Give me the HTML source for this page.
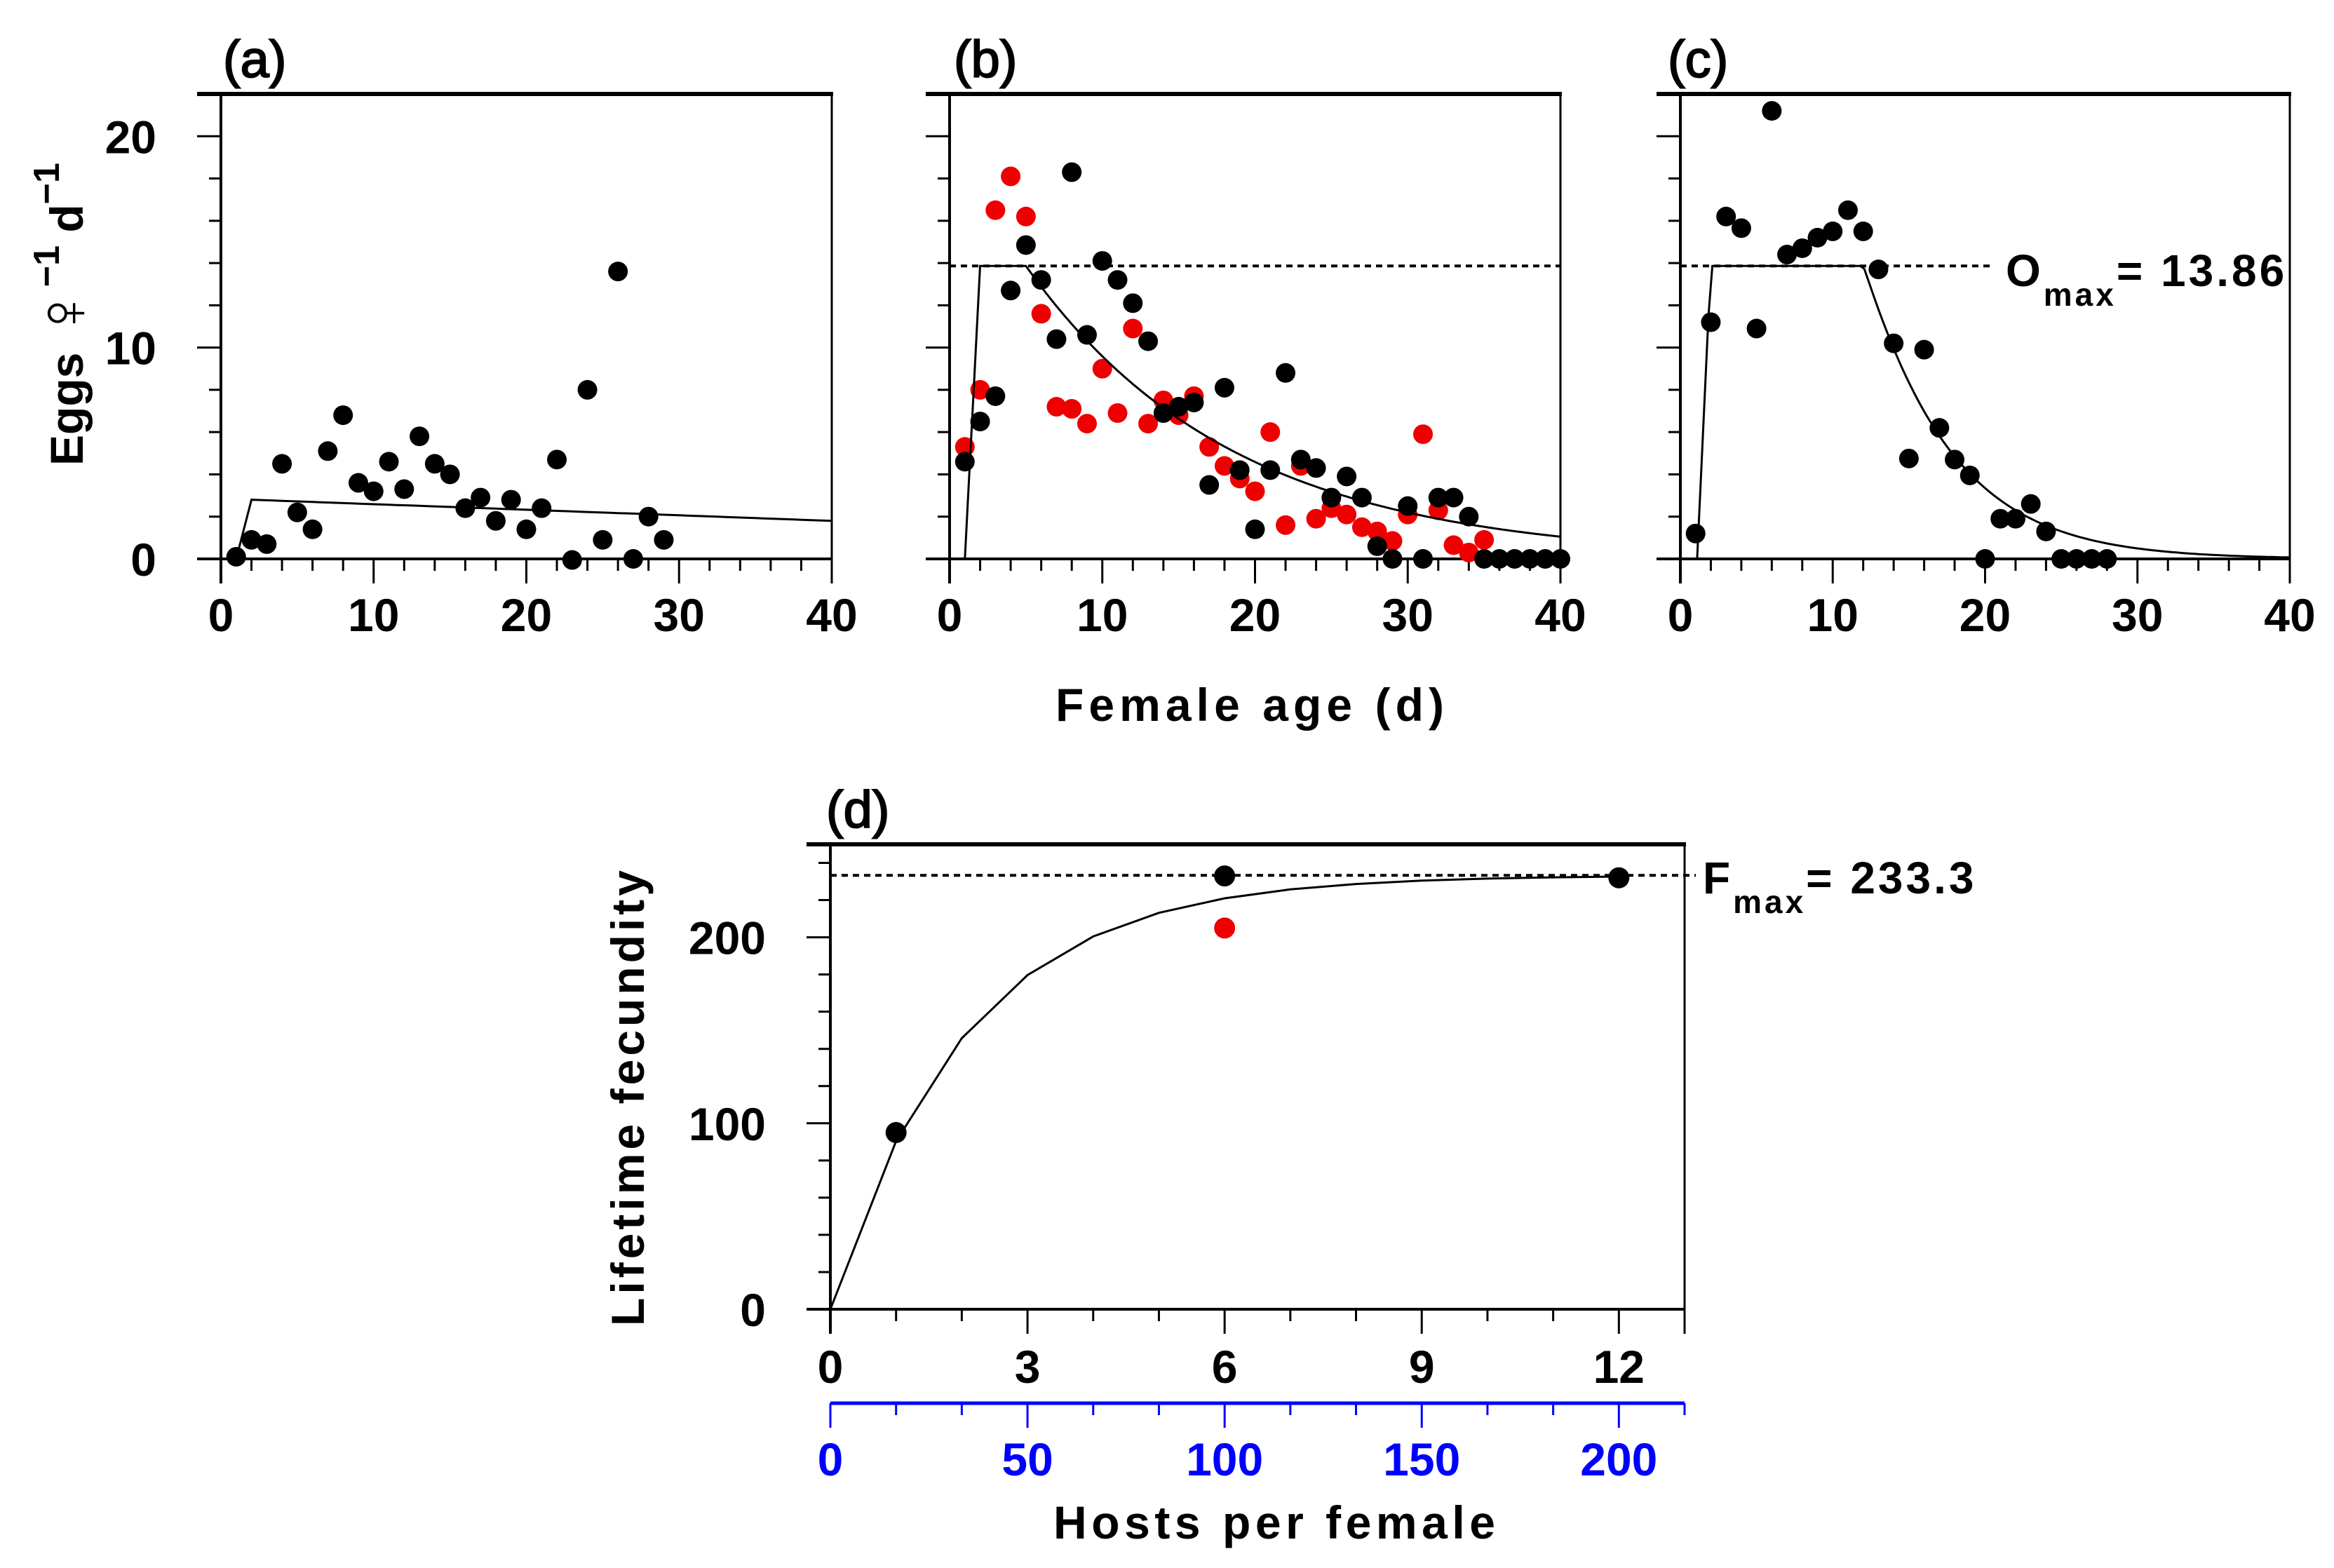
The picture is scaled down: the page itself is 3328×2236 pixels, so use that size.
<!DOCTYPE html>
<html><head><meta charset="utf-8"><style>
html,body{margin:0;padding:0;background:#fff;}
svg{display:block;font-family:"Liberation Sans","DejaVu Sans",sans-serif;font-weight:bold;}
</style></head><body>
<svg id="chart" width="3328" height="2236" viewBox="0 0 3328 2236" xmlns="http://www.w3.org/2000/svg">
<g id="g"></g>
</svg>
<script>
// ---- data ----
const ageA = [1,2,3,4,5,6,7,8,9,10,11,12,13,14,15,16,17,18,19,20,21,22,23,24,25,26,27,28,29];
const eggsA = [0.1,0.9,0.7,4.5,2.2,1.4,5.1,6.8,3.6,3.2,4.6,3.3,5.8,4.5,4.0,2.4,2.9,1.8,2.8,1.4,2.4,4.7,-0.05,8.0,0.9,13.6,0,2.0,0.9];
const ageB = [1,2,3,4,5,6,7,8,9,10,11,12,13,14,15,16,17,18,19,20,21,22,23,24,25,26,27,28,29,30,31,32,33,34,35,36,37,38,39,40];
const eggsBblack = [4.6,6.5,7.7,12.7,14.85,13.2,10.4,18.3,10.6,14.1,13.2,12.1,10.3,6.9,7.2,7.4,3.5,8.1,4.2,1.4,4.2,8.8,4.7,4.3,2.9,3.9,2.9,0.6,0,2.5,0,2.9,2.9,2.0,0,0,0,0,0,0];
const ageBred = [1,2,3,4,5,6,7,8,9,10,11,12,13,14,15,16,17,18,19,20,21,22,23,24,25,26,27,28,29,30,31,32,33,34,35];
const eggsBred = [5.3,8.0,16.5,18.1,16.2,11.6,7.2,7.1,6.4,9.0,6.9,10.9,6.4,7.5,6.8,7.7,5.3,4.4,3.8,3.2,6.0,1.6,4.4,1.9,2.4,2.1,1.5,1.3,0.85,2.1,5.9,2.3,0.65,0.3,0.9];
const ageC = [1,2,3,4,5,6,7,8,9,10,11,12,13,14,15,16,17,18,19,20,21,22,23,24,25,26,27,28];
const eggsC = [1.2,11.2,16.2,15.65,10.9,21.2,14.4,14.7,15.2,15.5,16.5,15.5,13.7,10.2,4.75,9.9,6.2,4.7,3.95,0,1.9,1.9,2.6,1.3,0,0,0,0];
const hostsD = [1,6,12];
const fecD = [95,233,232];
const hostsDred = [6];
const fecDred = [205];
const Omax = 13.86;
const Fmax = 233.3;
const xTicksAge = [0,10,20,30,40];
const yTicksEggs = [0,10,20];
const xTicksD = [0,3,6,9,12];
const yTicksD = [0,100,200];
const blueTicks = [0,50,100,150,200];

const NS="http://www.w3.org/2000/svg";
const G=document.getElementById('g');
function el(tag,attrs,parent,txt){const e=document.createElementNS(NS,tag);for(const k in attrs)e.setAttribute(k,attrs[k]);if(txt!==undefined)e.textContent=txt;(parent||G).appendChild(e);return e;}

function panel(name,x0,x1,y0,yTop,xmax,ymax){
  const sx=v=>x0+(x1-x0)*v/xmax;
  const sy=v=>y0-(y0-yTop)*v/ymax;
  const g=el('g',{});
  
  
  return {g,sx,sy,x0,x1,y0,yTop};
}
function frame(p,xStep,xMajorEvery,yStep,yMajorEvery,xmax,ymax,xtl,ytl,showYLabels,xLabelY){
  const g=p.g;
  const ax=el('g',{},g);
  el('line',{x1:p.x0-34,y1:p.yTop,x2:p.x1+2,y2:p.yTop,stroke:'#000','stroke-width':6},ax);
  el('line',{x1:p.x0,y1:p.yTop,x2:p.x0,y2:p.y0+35,stroke:'#000','stroke-width':4},ax);
  el('line',{x1:p.x1,y1:p.yTop,x2:p.x1,y2:p.y0+35,stroke:'#000','stroke-width':3},ax);
  el('line',{x1:p.x0-34,y1:p.y0,x2:p.x1,y2:p.y0,stroke:'#000','stroke-width':4},ax);
  for(let v=0;v<=xmax+1e-9;v+=xStep){
    const maj=Math.abs(v/xMajorEvery-Math.round(v/xMajorEvery))<1e-6;
    el('line',{x1:p.sx(v),y1:p.y0,x2:p.sx(v),y2:p.y0+(maj?35:17),stroke:'#000','stroke-width':3},ax);
  }
  for(let v=0;v<=ymax+1e-9;v+=yStep){
    const maj=Math.abs(v/yMajorEvery-Math.round(v/yMajorEvery))<1e-6;
    el('line',{x1:p.x0-(maj?34:17),y1:p.sy(v),x2:p.x0,y2:p.sy(v),stroke:'#000','stroke-width':3},ax);
  }
  const xl=el('g',{},g);
  xtl.forEach(v=>{el('text',{x:p.sx(v),y:xLabelY,'font-size':66,'text-anchor':'middle'},xl,String(v));});
  if(showYLabels){
    const yl=el('g',{},g);
    ytl.forEach(v=>{el('text',{x:p.x0-92,y:p.sy(v)+24,'font-size':66,'text-anchor':'end'},yl,String(v));});
  }
}
function dots(p,xs,ys,color,r,name){
  const g=el('g',{},p.g);
  
  
  xs.forEach((x,i)=>{const c=el('circle',{cx:p.sx(x),cy:p.sy(ys[i]),r:r,fill:color},g);
    
    });
}
function curve(p,f,a,b,n,name,dash){
  let d='';for(let i=0;i<=n;i++){const t=a+(b-a)*i/n;d+=(i?'L':'M')+p.sx(t).toFixed(1)+','+p.sy(f(t)).toFixed(1);}
  const e=el('path',{d:d,fill:'none',stroke:'#000','stroke-width':dash?4:3,'stroke-dasharray':dash||'none'},p.g);
  
  
}

// ---- panel a ----
const pa=panel('panel-a',315,1186,797,134,40,22);
frame(pa,2,10,2,10,40,22,xTicksAge,yTicksEggs,true,900);
curve(pa,t=>t<2?2.8*(t-1):2.8-(1.0)*(t-2)/38,1,40,78,'fit-line-a');
dots(pa,ageA,eggsA,'#000',14,'eggs-a');

// ---- panel b ----
const pb=panel('panel-b',1354,2225,797,134,40,22);
frame(pb,2,10,2,10,40,22,xTicksAge,yTicksEggs,false,900);
curve(pb,t=>Omax,0,40,1,'omax-line-b','9,7');
dots(pb,ageBred,eggsBred,'#e00',14,'eggs-b-red');
dots(pb,ageB,eggsBblack,'#000',14,'eggs-b-black');
curve(pb,t=>t<2?Omax*(t-1):(t<5?Omax:Omax*Math.exp(-0.0737*(t-5))),1,40,156,'fit-line-b');

// ---- panel c ----
const pc=panel('panel-c',2396,3265,797,134,40,22);
frame(pc,2,10,2,10,40,22,xTicksAge,yTicksEggs,false,900);
el('line',{x1:pc.sx(0),y1:pc.sy(Omax),x2:2840,y2:pc.sy(Omax),stroke:'#000','stroke-width':4,'stroke-dasharray':'9,7',},pc.g);
curve(pc,t=>t<2?Omax*(t-1.1)/0.9:(t<12?Omax:Omax*Math.exp(-0.16*Math.pow(t-12,1.05))),1.1,40,156,'fit-line-c');
dots(pc,ageC,eggsC,'#000',14,'eggs-c');
const om=el('text',{x:2860,y:408,'font-size':64,'letter-spacing':4},pc.g);


om.innerHTML='O<tspan font-size="46" dy="28">max</tspan><tspan dy="-28">=  13.86</tspan>';

// ---- panel d ----
const pd=panel('panel-d',1184,2402,1867,1204,13,250);
frame(pd,1,3,20,100,13,240,xTicksD,yTicksD,true,1972);
el('line',{x1:pd.sx(0),y1:pd.sy(Fmax),x2:2418,y2:pd.sy(Fmax),stroke:'#000','stroke-width':4,'stroke-dasharray':'9,7',},pd.g);
curve(pd,t=>Fmax*(1-Math.exp(-0.49*t)),0,12,12,'fit-line-d');
dots(pd,hostsDred,fecDred,'#e00',15,'fecundity-red');
dots(pd,hostsD,fecD,'#000',15,'fecundity-black');
const fm=el('text',{x:2428,y:1274,'font-size':64,'letter-spacing':4},pd.g);


fm.innerHTML='F<tspan font-size="46" dy="28">max</tspan><tspan dy="-28">=  233.3</tspan>';
// blue axis
const ba=el('g',{},pd.g);


const byL=2001;
el('line',{x1:pd.sx(0),y1:byL,x2:pd.sx(13),y2:byL,stroke:'#00f','stroke-width':5},ba);
for(let v=0;v<=13;v++){const maj=v%3===0;el('line',{x1:pd.sx(v),y1:byL,x2:pd.sx(v),y2:byL+(maj?35:17),stroke:'#00f','stroke-width':3},ba);}
blueTicks.forEach(v=>{el('text',{x:pd.sx(v*12/200),y:2104,'font-size':66,'text-anchor':'middle',fill:'#00f'},ba,String(v));});

// ---- labels ----
function lab(txt,x,y,name,extra){const t=el('text',Object.assign({x:x,y:y,'font-size':66},extra||{}),G,txt);
  
  return t;}
lab('(a)',318,110,'panel-a-title',{'font-size':74,'font-weight':'normal',stroke:'#000','stroke-width':2});
lab('(b)',1360,110,'panel-b-title',{'font-size':74,'font-weight':'normal',stroke:'#000','stroke-width':2});
lab('(c)',2378,110,'panel-c-title',{'font-size':74,'font-weight':'normal',stroke:'#000','stroke-width':2});
lab('(d)',1178,1180,'panel-d-title',{'font-size':74,'font-weight':'normal',stroke:'#000','stroke-width':2});
lab('Female age (d)',1505,1028,'x-axis-title-age',{textLength:554,lengthAdjust:'spacing'});
lab('Hosts per female',1502,2194,'x-axis-title-hosts',{textLength:630,lengthAdjust:'spacing'});
lab('Lifetime fecundity',0,0,'y-axis-title-fecundity',{transform:'translate(918,1566) rotate(-90)','text-anchor':'middle',textLength:650,lengthAdjust:'spacing'});
const eg=el('text',{transform:'translate(118,448) rotate(-90)','font-size':66,'text-anchor':'middle'});


eg.innerHTML='Eggs  <tspan font-weight="normal" font-size="100" dy="6">♀</tspan><tspan font-size="52" dy="-40">−1</tspan><tspan dy="34">  d</tspan><tspan font-size="52" dy="-34">−1</tspan>';
</script>
</body></html>
